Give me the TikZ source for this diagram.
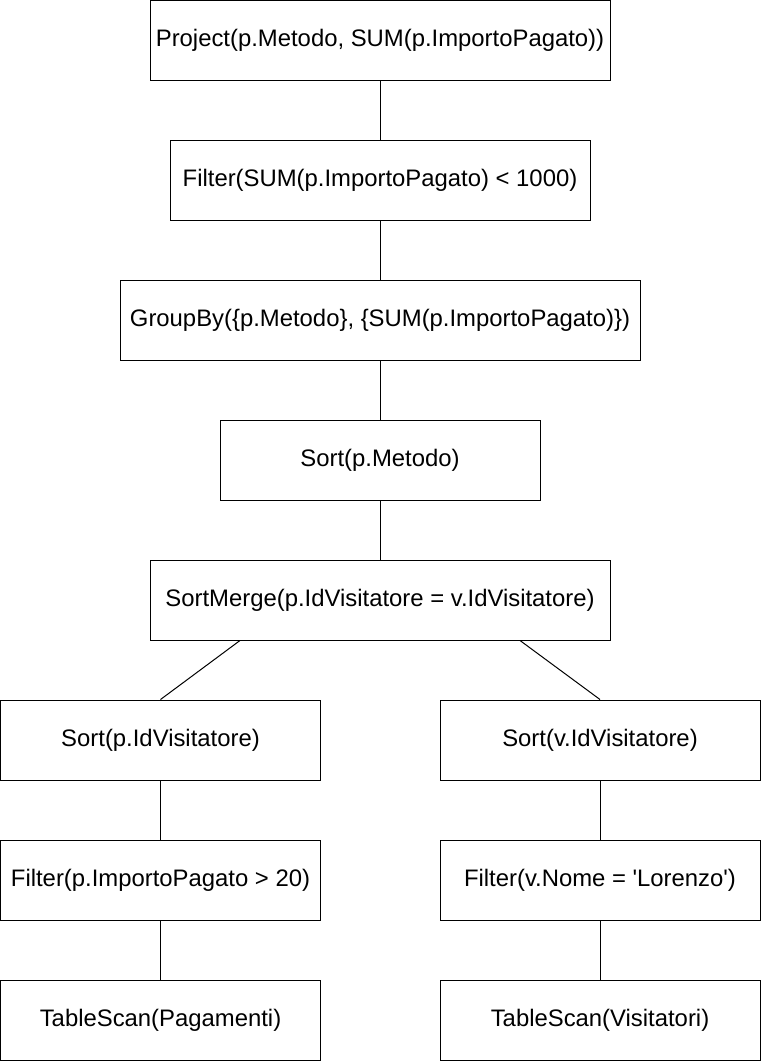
\documentclass[tikz,border=0pt]{standalone}
\usepackage{fontspec}
\setmainfont{Liberation Sans}
\usetikzlibrary{calc}
\begin{document}
\begin{tikzpicture}[x=0.75pt,y=-0.75pt,
  op/.style={draw=black,line width=0.75pt,rectangle,inner sep=0pt,minimum height=60pt,font=\fontsize{17.9}{20}\selectfont,text=black},
  link/.style={draw=black,line width=0.75pt}]
\useasboundingbox (0,0) rectangle (761,1061);
\node[op,minimum width=345pt] (proj) at (380,40) {Project(p.Metodo, SUM(p.ImportoPagato))};
\node[op,minimum width=315pt] (filt) at (380,180) {Filter(SUM(p.ImportoPagato) < 1000)};
\node[op,minimum width=390pt] (grp) at (380,320) {GroupBy(\{p.Metodo\}, \{SUM(p.ImportoPagato)\})};
\node[op,minimum width=240pt] (srt) at (380,460) {Sort(p.Metodo)};
\node[op,minimum width=345pt] (sm) at (380,600) {SortMerge(p.IdVisitatore = v.IdVisitatore)};
\node[op,minimum width=240pt] (sl) at (160.5,740) {Sort(p.IdVisitatore)};
\node[op,minimum width=240pt] (sr) at (600,740) {Sort(v.IdVisitatore)};
\node[op,minimum width=240pt] (fl) at (160.5,880) {Filter(p.ImportoPagato > 20)};
\node[op,minimum width=240pt] (fr) at (600,880) {Filter(v.Nome = \textquotesingle Lorenzo\textquotesingle)};
\node[op,minimum width=240pt] (tl) at (160.5,1020) {TableScan(Pagamenti)};
\node[op,minimum width=240pt] (tr) at (600,1020) {TableScan(Visitatori)};
\draw[link] (proj) -- (filt);
\draw[link] (filt) -- (grp);
\draw[link] (grp) -- (srt);
\draw[link] (srt) -- (sm);
\draw[link] ($(sm.south)+(-140,0)$) -- (sl.north);
\draw[link] ($(sm.south)+(140,0)$) -- (sr.north);
\draw[link] (sl) -- (fl);
\draw[link] (fl) -- (tl);
\draw[link] (sr) -- (fr);
\draw[link] (fr) -- (tr);
\end{tikzpicture}
\end{document}
